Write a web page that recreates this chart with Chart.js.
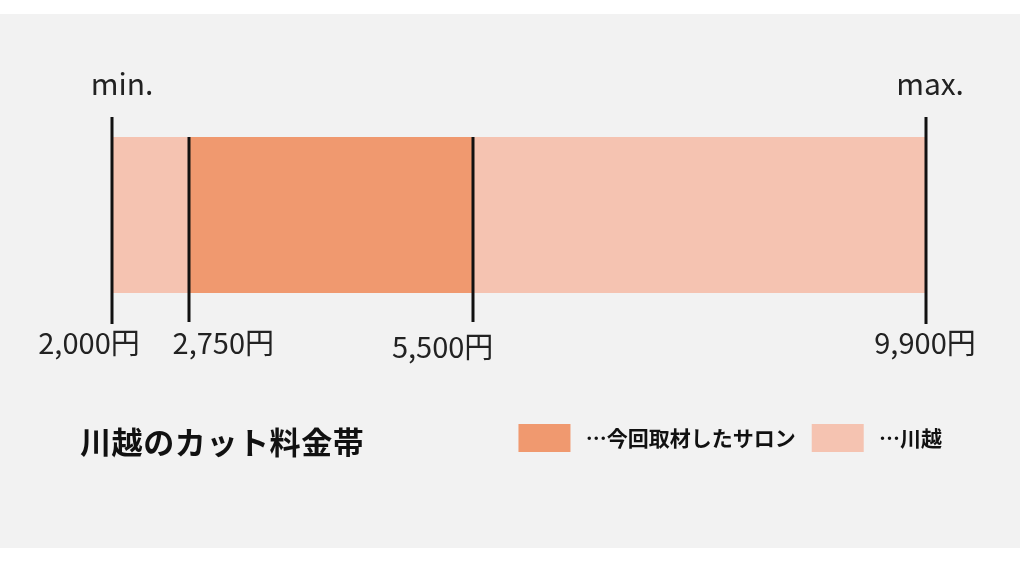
<!DOCTYPE html>
<html lang="ja">
<head>
<meta charset="utf-8">
<script src="https://cdn.jsdelivr.net/npm/chart.js@4/dist/chart.umd.min.js"></script>
<style>
    body { margin: 0; background: #fff; }
    #wrap { position: relative; width: 1024px; height: 562px; }
    #title {
        position: absolute; left: 80px; top: 425px;
        font: bold 31px "Noto Sans CJK JP", sans-serif; line-height: 1;
        letter-spacing: 0.6px;
        color: #111; white-space: nowrap;
    }
</style>
</head>
<body>
<div id="wrap">
    <canvas id="myChart" width="1024" height="562"></canvas>
    <div id="title">川越のカット料金帯</div>
</div>
<script>
// Data

const categories = ['川越'];
const seriesLabels = ['…今回取材したサロン', '…川越'];
const salonRange = [2750, 5500];
const cityRange = [2000, 9900];
const tickValues = [2000, 2750, 5500, 9900];
const tickLabels = ['2,000円', '2,750円', '5,500円', '9,900円'];
const endLabels = ['min.', 'max.'];

// label nudges (px) so the price labels don't collide
const labelNudge = [-23, 34, -30, -1];

// Background panel

const panel = {
    id: 'panel',
    beforeDraw(chart) {
        const ctx = chart.ctx;
        ctx.save();
        ctx.fillStyle = '#ffffff';
        ctx.fillRect(0, 0, chart.width, chart.height);
        ctx.fillStyle = '#f2f2f2';
        ctx.fillRect(0, 14, 1020, 534);
        ctx.restore();
    }
};

// Guide lines + labels

const guides = {
    id: 'guides',
    afterDatasetsDraw(chart) {
        const { ctx, chartArea } = chart;
        const x = chart.scales.x;
        ctx.save();
        ctx.strokeStyle = '#111';
        ctx.lineWidth = 3;
        tickValues.forEach(function (v, i) {
            const px = Math.round(x.getPixelForValue(v));
            const isEnd = (v === x.min || v === x.max);
            const top = isEnd ? chartArea.top - 20 : chartArea.top;
            const bottom = chartArea.bottom + (isEnd ? 31 : 29);
            ctx.beginPath();
            ctx.moveTo(px, top);
            ctx.lineTo(px, bottom);
            ctx.stroke();
        });

        ctx.fillStyle = '#222';
        ctx.font = '29px "Noto Sans CJK JP", sans-serif';
        ctx.textAlign = 'center';
        ctx.textBaseline = 'middle';
        tickValues.forEach(function (v, i) {
            const px = x.getPixelForValue(v) + labelNudge[i];
            const py = chartArea.bottom + 50 + (i === 2 ? 4 : 0);
            ctx.fillText(tickLabels[i], px, py);
        });

        ctx.font = '30px "Noto Sans CJK JP", sans-serif';
        ctx.fillText(endLabels[0], x.getPixelForValue(cityRange[0]) + 10, chartArea.top - 53);
        ctx.fillText(endLabels[1], x.getPixelForValue(cityRange[1]) + 4, chartArea.top - 53);
        ctx.restore();
    }
};

// Chart

const ctx = document.getElementById('myChart').getContext('2d');
const chart = new Chart(ctx, {
    type: 'bar',
    data: {
        labels: categories,
        datasets: [{
                label: seriesLabels[0],
                backgroundColor: '#F0996F',
                borderWidth: 0,
                data: [salonRange],
                grouped: false,
                barPercentage: 1,
                categoryPercentage: 1,
            },
            {
                label: seriesLabels[1],
                backgroundColor: '#F5C3B1',
                borderWidth: 0,
                data: [cityRange],
                grouped: false,
                barPercentage: 1,
                categoryPercentage: 1,
            }
        ]
    },
    options: {
        indexAxis: 'y',
        responsive: false,
        animation: false,
        layout: {
            padding: { top: 137, bottom: 100, left: 0, right: 66 }
        },
        scales: {
            x: {
                type: 'linear',
                min: cityRange[0],
                max: cityRange[1],
                ticks: { display: false },
                grid: { display: false },
                border: { display: false },
                afterFit: function (s) { s.height = 115; }
            },
            y: {
                ticks: { display: false },
                grid: { display: false },
                border: { display: false },
                afterFit: function (s) { s.width = 112; }
            },
            yR: {
                type: 'linear',
                position: 'right',
                ticks: { display: false },
                grid: { display: false },
                border: { display: false },
                afterFit: function (s) { s.width = 32; }
            }
        },
        plugins: {
            tooltip: { enabled: false },
            legend: {
                position: 'bottom',
                align: 'end',
                labels: {
                    boxWidth: 52,
                    boxHeight: 28,
                    padding: 16,
                    color: '#111',
                    font: { family: '"Noto Sans CJK JP", sans-serif', size: 21, weight: 'bold' },
                    generateLabels: function (c) {
                        const items = Chart.defaults.plugins.legend.labels.generateLabels(c);
                        items.forEach(function (it) { it.text = ' ' + it.text; });
                        return items;
                    }
                }
            }
        }
    },
    plugins: [panel, guides]
});
</script>
</body>
</html>
